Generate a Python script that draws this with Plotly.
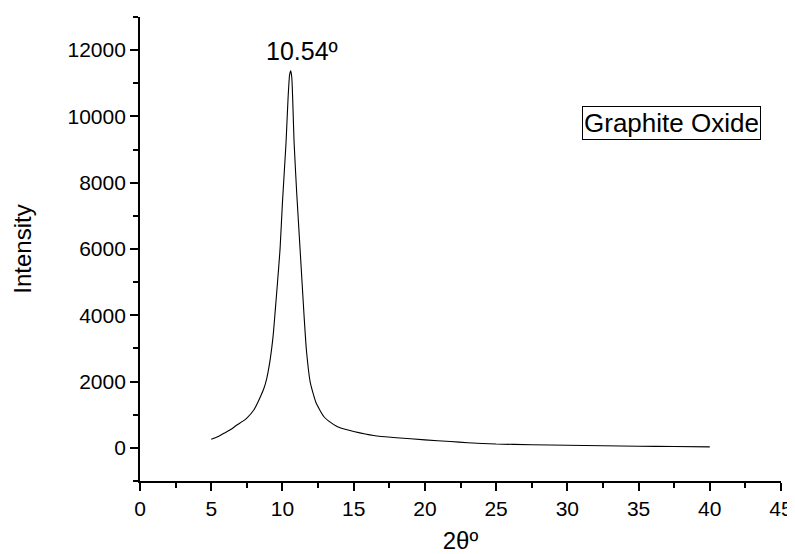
import plotly.graph_objects as go

two_theta = [5.0, 5.5, 5.9, 6.4, 6.8, 7.2, 7.5, 8.0, 8.3, 8.7, 8.9, 9.15, 9.35, 9.5, 9.65,
             9.83, 10.0, 10.25, 10.4, 10.5, 10.58, 10.66, 10.82, 11.0, 11.24, 11.52, 11.68,
             11.96, 12.36, 12.9, 13.4, 13.83, 14.4, 15.0, 16.4, 18.0, 20.0, 21.8, 23.0,
             25.0, 27.5, 30.0, 32.5, 35.0, 37.5, 40.0]
intensity = [262, 345, 443, 560, 690, 800, 900, 1150, 1400, 1800, 2100, 2700, 3400, 4170, 4975,
             5980, 7400, 9200, 10600, 11250, 11380, 11150, 9200, 7700, 5980, 3970, 2960,
             1960, 1360, 946, 760, 645, 560, 493, 372, 305, 242, 190, 155,
             115, 95, 80, 65, 50, 40, 30]

x_ticks = [0, 5, 10, 15, 20, 25, 30, 35, 40, 45]
y_ticks = [0, 2000, 4000, 6000, 8000, 10000, 12000]
peak_label = "10.54º"
series_name = "Graphite Oxide"

FONT = "Liberation Sans, Arial, sans-serif"

fig = go.Figure()
fig.add_trace(go.Scatter(
    x=two_theta, y=intensity, mode="lines",
    line=dict(color="black", width=1.1, shape="spline", smoothing=0.5),
    name=series_name, showlegend=False,
))

fig.add_annotation(x=11.4, y=11964, xref="x", yref="y", text=peak_label,
                   xanchor="center", yanchor="middle",
                   showarrow=False, font=dict(family=FONT, size=25, color="black"))
fig.add_annotation(x=0.829, y=0.7726, xref="paper", yref="paper", text=series_name,
                   xanchor="center", yanchor="middle",
                   showarrow=False, font=dict(family=FONT, size=26, color="black"),
                   bordercolor="black", borderwidth=1, borderpad=1, bgcolor="white")

axis_common = dict(
    showgrid=False, zeroline=False, showline=True, linecolor="black", linewidth=1.8,
    ticks="outside", ticklen=8, tickwidth=1.5, tickcolor="black", automargin=False,
    tickfont=dict(family=FONT, size=21, color="black"), mirror=False,
)

fig.update_xaxes(**axis_common, range=[0, 45], tickvals=x_ticks,
                 ticktext=[str(v) for v in x_ticks],
                 minor=dict(ticks="outside", ticklen=5, tickwidth=1.5, tickcolor="black", dtick=2.5),
                 title=dict(text="2θº", font=dict(family=FONT, size=24, color="black"), standoff=14))
fig.update_yaxes(**axis_common, range=[-1000, 13000], tickvals=y_ticks,
                 ticktext=[str(v) for v in y_ticks],
                 minor=dict(ticks="outside", ticklen=5, tickwidth=1.5, tickcolor="black", dtick=1000),
                 title=dict(text="Intensity", font=dict(family=FONT, size=24, color="black"), standoff=29))

# the page body adds an 8px offset, so the figure is 8px smaller and margins shifted
fig.update_layout(
    width=787, height=546,
    margin=dict(l=132, r=14, t=9, b=73),
    plot_bgcolor="white", paper_bgcolor="white",
    font=dict(family=FONT, color="black"),
)

fig.write_html("out.html")
